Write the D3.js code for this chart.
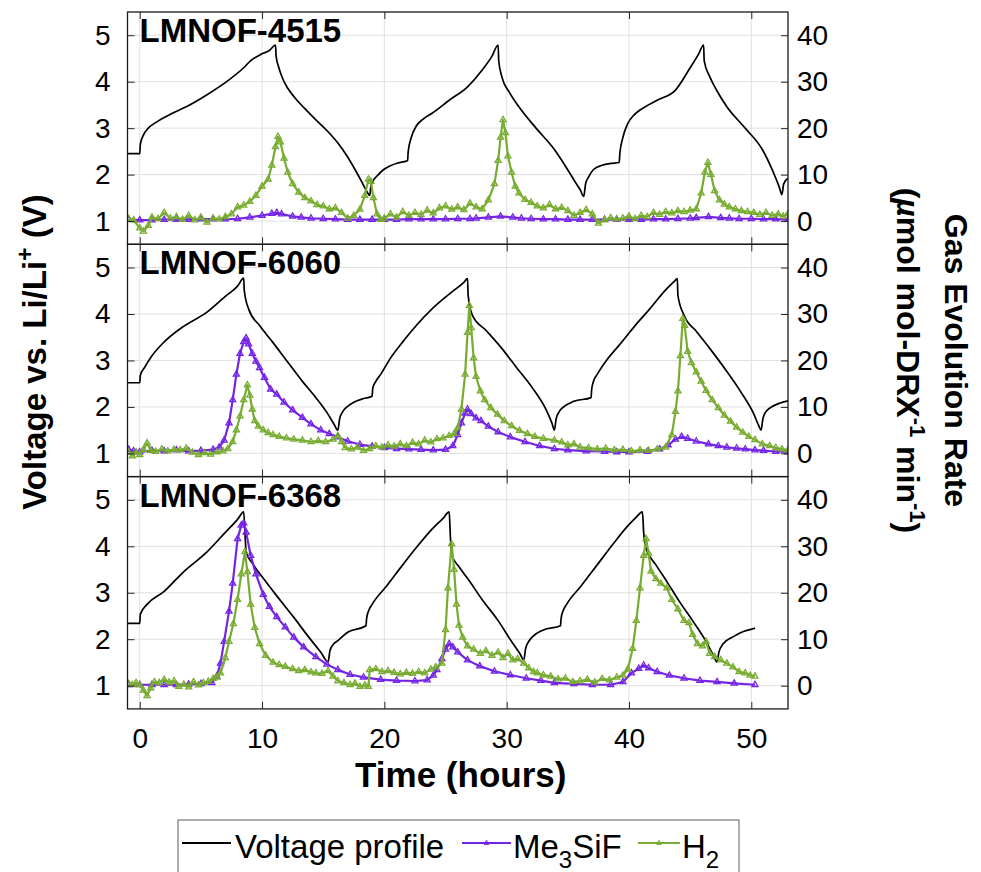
<!DOCTYPE html>
<html><head><meta charset="utf-8">
<script src="https://cdn.jsdelivr.net/npm/d3@7"></script>
<style>
html,body{margin:0;padding:0;background:#fff;}
text{font-family:"Liberation Sans",Arial,Helvetica,sans-serif;}
</style></head>
<body>
<svg id="chart" width="981" height="872"></svg>
<script>
// ---------------- DATA ----------------
const panelNames = ["LMNOF-4515", "LMNOF-6060", "LMNOF-6368"];
const xTicks = [0, 10, 20, 30, 40, 50];
const voltTicks = [1, 2, 3, 4, 5];
const gasTicks = [0, 10, 20, 30, 40];
const seriesNames = ["Voltage profile", "Me3SiF", "H2"];

// Voltage profiles [time h, V]
const volt4515 = [[-1,2.45],[0,2.45],[0.05,2.65],[0.3,2.85],[0.7,3.0],[1.3,3.12],[2.5,3.3],[3.8,3.46],[5.5,3.72],[7.3,4.04],[8.5,4.3],[9.1,4.46],[10,4.6],[10.6,4.67],[11.1,4.79],
[11.15,4.55],[11.35,4.32],[11.8,4.0],[12.6,3.68],[13.5,3.42],[14.4,3.18],[15.3,2.95],[16.2,2.68],[17.0,2.38],[17.6,2.11],[18.2,1.82],[18.6,1.62],[18.8,1.55],
[18.9,1.75],[19.1,1.88],[19.4,1.97],[19.9,2.1],[20.4,2.18],[21.1,2.25],[21.8,2.29],[21.9,2.3],
[21.95,2.5],[22.2,2.8],[22.6,3.04],[23.2,3.2],[23.9,3.32],[25.3,3.6],[26.8,3.89],[28,4.25],[28.8,4.55],[29.3,4.79],
[29.35,4.45],[29.6,4.11],[30.2,3.78],[31,3.46],[32.4,3.0],[33.9,2.54],[35,2.1],[35.7,1.8],[36.0,1.68],[36.3,1.53],
[36.45,1.8],[36.7,1.95],[37.1,2.11],[37.8,2.2],[38.5,2.24],[39.2,2.26],
[39.25,2.45],[39.5,2.8],[39.9,3.1],[40.4,3.28],[40.9,3.39],[42.3,3.6],[43.8,3.82],[45,4.3],[45.7,4.6],[46.1,4.79],
[46.15,4.45],[46.6,4.11],[47.2,3.8],[48,3.46],[49.5,3.0],[50.9,2.54],[51.8,2.05],[52.3,1.72],[52.5,1.57],
[52.65,1.8],[53,1.92]];
const volt6060 = [[-1,2.52],[0,2.52],[0.05,2.68],[0.4,2.85],[1.0,3.1],[2.0,3.4],[3.5,3.72],[5.5,4.04],[7.0,4.38],[8.0,4.6],[8.5,4.77],
[8.55,4.5],[8.9,4.11],[9.8,3.75],[10.85,3.4],[12,3.0],[13.3,2.55],[14.4,2.2],[15.4,1.84],[15.9,1.62],[16.2,1.5],
[16.35,1.75],[16.6,1.9],[16.9,1.99],[17.5,2.1],[18.3,2.18],[19.0,2.23],
[19.05,2.4],[19.3,2.55],[19.7,2.7],[20.5,3.05],[21.5,3.4],[22.7,3.78],[23.9,4.11],[25.5,4.47],[26.5,4.68],[26.8,4.76],
[26.85,4.4],[27.2,3.97],[28.3,3.65],[29.6,3.26],[30.8,2.85],[32.1,2.41],[33.2,1.95],[33.7,1.65],[33.9,1.5],
[34.05,1.75],[34.3,1.9],[34.6,1.99],[35.5,2.12],[36.9,2.2],
[36.95,2.38],[37.1,2.55],[37.4,2.7],[38.3,3.05],[39.2,3.33],[40.5,3.75],[41.7,4.11],[43.0,4.52],[43.7,4.7],[43.95,4.76],
[44.0,4.4],[44.5,3.97],[45.5,3.63],[46.6,3.26],[47.9,2.8],[49.1,2.34],[50.2,1.85],[50.6,1.6],[50.8,1.5],
[50.95,1.75],[51.2,1.9],[51.6,1.99],[52.3,2.08],[53,2.13]];
const volt6368 = [[-1,2.34],[0,2.34],[0.05,2.54],[0.6,2.75],[2.0,3.03],[3.5,3.43],[5.5,3.88],[7.0,4.3],[8.0,4.58],[8.5,4.74],
[8.6,4.3],[8.7,3.88],[9.3,3.6],[10.1,3.31],[11.3,2.9],[12.6,2.47],[13.8,2.05],[14.8,1.72],[15.4,1.51],
[15.55,1.75],[15.8,1.88],[16.2,1.97],[17.0,2.15],[18.5,2.29],
[18.55,2.45],[18.7,2.6],[19.0,2.75],[20.2,3.15],[21.5,3.6],[22.7,4.0],[23.9,4.37],[24.8,4.6],[25.3,4.74],
[25.4,4.2],[25.5,3.81],[26.1,3.56],[26.8,3.31],[28.0,2.85],[29.3,2.4],[30.4,1.95],[31.1,1.68],[31.4,1.55],
[31.55,1.8],[31.8,1.95],[32.1,2.05],[33.0,2.2],[34.4,2.29],
[34.45,2.45],[34.6,2.6],[34.9,2.75],[36.1,3.15],[37.4,3.6],[38.7,4.05],[39.9,4.44],[40.6,4.63],[41.1,4.74],
[41.2,4.3],[41.4,3.95],[42.2,3.6],[43.1,3.24],[44.1,2.82],[45.2,2.4],[46.3,1.95],[46.9,1.65],[47.2,1.51],
[47.35,1.72],[47.7,1.9],[48.5,2.05],[49.4,2.17],[50.2,2.23],[50.3,2.24]];

// Me3SiF evolution rate [time h, umol mol-DRX^-1 min^-1]
const me3sif4515 = [[-0.9,0.3],[0,0.2],[1,0.2],[2,0.3],[3,0.3],[4,0.3],[5,0.4],[6,0.4],[7,0.4],[8,0.5],[9,0.8],[10,1.2],[10.8,1.6],[11.2,1.8],[11.6,1.5],[12.5,1.0],[13.2,0.8],[14,0.6],[15,0.5],[16,0.4],[17,0.3],[18,0.3],[19,0.3],[20,0.3],[21,0.3],[22,0.4],[23,0.4],[24,0.4],[25,0.4],[26,0.5],[27,0.5],[27.5,0.6],[28.5,0.8],[29.5,1.0],[30.5,0.8],[31.2,0.6],[32,0.5],[33,0.4],[34,0.4],[35,0.3],[36,0.3],[37,0.3],[38,0.3],[39,0.3],[40,0.3],[41,0.3],[42,0.4],[43,0.4],[44,0.5],[45,0.6],[45.5,0.7],[46.5,0.9],[47.5,0.7],[48.2,0.6],[49,0.5],[50,0.5],[51,0.4],[52,0.4],[53,0.3]];
const me3sif6060 = [[-0.9,0.8],[-0.5,0.5],[0,0.3],[1,0.6],[2,0.5],[3,0.7],[4,0.5],[5,0.6],[6,0.8],[6.5,1.3],[6.9,2.8],[7.3,6.5],[7.6,11.5],[7.9,17],[8.2,21.5],[8.5,24],[8.7,24.8],[8.9,23.5],[9.2,21.5],[9.5,19.8],[9.8,18.4],[10.2,16.3],[10.7,13.8],[11.2,12.7],[11.8,11.0],[12.5,9.3],[13.3,7.7],[14.0,6.3],[14.8,5.0],[15.5,4.2],[16.2,3.5],[17.0,2.6],[18.0,1.9],[19.0,1.5],[20,1.2],[21,1.0],[22,0.9],[23,0.8],[24,0.7],[25,0.8],[25.6,1.6],[26.0,4.0],[26.3,6.5],[26.6,8.6],[26.8,9.5],[27.1,8.5],[27.5,7.6],[27.9,7.0],[28.5,5.8],[29.3,4.6],[30.3,3.5],[31.5,2.5],[32.7,1.6],[33.9,1.0],[35,0.7],[36.5,0.5],[38,0.4],[39,0.3],[40,0.3],[41.5,0.4],[42.5,0.9],[43.2,1.8],[43.8,3.0],[44.3,3.6],[44.8,3.2],[45.5,2.6],[46.5,2.0],[47.3,1.6],[48,1.3],[48.8,1.1],[49.5,0.9],[50.3,0.7],[51,0.6],[52,0.4],[53,0.3]];
const me3sif6368 = [[-0.9,0.2],[0,0.2],[1,0.2],[2,0.2],[3,0.2],[4,0.3],[5,0.4],[5.9,0.6],[6.3,2.0],[6.6,4.8],[6.9,9.5],[7.3,16],[7.6,22],[8.0,31.6],[8.3,34.5],[8.5,35],[8.7,33],[9.07,28],[9.5,24],[10.1,19.6],[10.6,17],[11.2,14.8],[11.9,12.6],[12.6,10.4],[13.4,8.3],[14.4,6.2],[15.3,4.6],[16.2,3.4],[17.2,2.4],[18.3,1.8],[19.7,1.3],[21,1.1],[22.5,1.0],[23.5,1.2],[24.0,2.2],[24.3,3.4],[24.7,5.8],[25.0,7.8],[25.3,9.0],[25.6,8.3],[26.0,7.2],[26.8,5.5],[27.8,4.2],[29.0,3.1],[30.3,2.3],[31.6,1.6],[32.8,1.1],[33.9,0.6],[35.5,0.4],[37,0.2],[38.5,0.2],[39.5,0.8],[40.2,2.7],[40.8,3.7],[41.2,4.4],[41.6,3.8],[42.3,3.0],[43.3,2.2],[44.5,1.6],[45.8,1.1],[47.2,0.8],[48.6,0.5],[50.3,0.2]];

// H2 evolution rate [time h, umol mol-DRX^-1 min^-1]
const h2_4515 = [[-0.9,0.5],[-0.5,0.2],[0,-1.5],[0.3,-2.2],[0.7,-1.0],[1.0,0.8],[1.5,0.5],[2.0,1.8],[2.5,0.6],[3.0,0.9],[3.5,0.3],[4.0,1.2],[4.5,0.2],[5.0,0.8],[5.5,-0.3],[6.0,0.6],[6.5,0.4],[7.0,0.9],[7.5,1.5],[8.0,3.0],[8.5,3.4],[9.0,4.2],[9.5,5.5],[10.0,7.5],[10.5,9.0],[10.8,12],[11.1,16],[11.3,18.2],[11.5,17],[11.8,13.5],[12.1,10.5],[12.5,8.0],[13.0,6.2],[13.5,5.0],[14.0,4.3],[14.5,3.5],[15.0,3.2],[15.5,2.6],[16.0,2.8],[16.5,1.8],[17.0,0.6],[17.5,1.2],[18.0,2.5],[18.4,5.5],[18.7,9.0],[18.9,8.5],[19.1,5.0],[19.4,1.5],[19.7,0.3],[20.0,0.6],[20.5,1.5],[21.0,0.8],[21.5,2.0],[22.0,1.2],[22.5,1.8],[23.0,1.4],[23.5,2.3],[24.0,1.7],[24.5,2.8],[25.0,3.2],[25.5,2.5],[26.0,3.0],[26.5,2.4],[27.0,3.8],[27.5,3.0],[28.0,2.6],[28.5,4.5],[29.0,8.0],[29.3,13],[29.5,18],[29.7,21.8],[29.9,19],[30.1,14],[30.4,10.5],[30.7,7.5],[31.0,6.0],[31.5,4.6],[32.0,4.0],[32.5,3.2],[33.0,2.8],[33.5,3.5],[34.0,2.6],[34.5,2.9],[35.0,2.2],[35.5,1.2],[36.0,1.8],[36.5,2.4],[37.0,1.5],[37.5,-0.5],[38.0,0.2],[38.5,0.7],[39.0,0.4],[39.5,0.6],[40.0,1.0],[40.5,0.5],[41.0,1.2],[41.5,0.9],[42.0,1.8],[42.5,1.4],[43.0,2.0],[43.5,1.7],[44.0,2.2],[44.5,2.0],[45.0,2.3],[45.5,2.6],[45.9,6.0],[46.2,10.5],[46.45,12.6],[46.7,10],[47.0,6.5],[47.4,4.5],[47.8,3.6],[48.2,3.0],[48.7,2.6],[49.2,2.2],[49.7,2.0],[50.2,1.8],[50.7,1.4],[51.2,1.8],[51.7,1.2],[52.2,1.5],[52.6,1.0],[53,1.6]];
const h2_6060 = [[-0.9,0.2],[-0.6,-0.6],[-0.3,0.3],[0,-0.3],[0.3,0.8],[0.6,2.2],[0.9,0.6],[1.3,0.4],[1.8,0.9],[2.3,0.5],[2.8,0.8],[3.3,0.7],[3.8,1.1],[4.3,0.2],[4.8,-0.3],[5.3,0.1],[5.8,-0.2],[6.3,0.3],[6.8,0.5],[7.2,1.0],[7.6,2.5],[7.9,5.0],[8.2,8.0],[8.5,11.5],[8.8,14.7],[9.0,12.5],[9.2,9.5],[9.4,7.0],[9.7,5.8],[10.1,5.0],[10.5,4.4],[10.9,4.0],[11.4,3.6],[12.0,3.3],[12.6,3.0],[13.3,2.8],[14.0,2.5],[14.6,2.7],[15.2,2.5],[15.8,3.0],[16.2,3.8],[16.5,2.5],[16.8,1.2],[17.3,0.9],[17.8,1.3],[18.3,0.6],[18.8,1.0],[19.3,1.6],[19.8,1.3],[20.3,1.8],[20.8,1.5],[21.3,2.0],[21.8,1.6],[22.3,2.3],[22.8,2.0],[23.3,2.8],[23.8,2.4],[24.3,3.1],[24.8,3.3],[25.3,3.8],[25.7,4.2],[26.0,5.5],[26.3,9.5],[26.6,17],[26.8,26],[26.95,31.8],[27.1,27],[27.3,20.5],[27.5,16.5],[27.85,13.4],[28.2,11.5],[28.7,9.8],[29.25,8.4],[29.8,7.0],[30.4,5.9],[31.05,4.9],[31.7,4.2],[32.3,3.6],[33.0,3.2],[33.9,2.8],[34.5,2.4],[35.0,1.8],[35.5,2.0],[36.0,1.3],[36.7,1.2],[37.4,0.9],[38.1,1.1],[38.8,0.7],[39.5,0.8],[40.2,0.5],[40.9,0.7],[41.6,0.6],[42.3,0.9],[43.0,1.3],[43.5,4.0],[43.8,9],[44.0,13.4],[44.2,21],[44.4,29],[44.55,27.5],[44.8,21.9],[45.1,19.5],[45.5,17.5],[45.9,15.5],[46.3,13.5],[46.8,11.5],[47.3,9.8],[47.8,8.2],[48.3,6.9],[48.8,5.6],[49.3,4.5],[49.8,3.6],[50.3,2.9],[50.9,2.0],[51.5,1.6],[52.0,1.2],[52.5,0.9],[53,0.7]];
const h2_6368 = [[-0.9,0.4],[-0.6,0.2],[-0.3,0.6],[0,0.2],[0.3,-1.0],[0.6,-2.2],[0.9,-0.5],[1.2,0.8],[1.6,0.6],[2.0,1.3],[2.4,0.7],[2.8,1.0],[3.2,-0.2],[3.6,0.3],[4.0,-0.3],[4.4,0.8],[4.8,0.1],[5.2,0.6],[5.6,0.9],[6.0,1.5],[6.3,1.8],[6.6,2.7],[7.0,6.0],[7.3,9.5],[7.65,13.3],[8.0,18.5],[8.3,24],[8.6,28.8],[8.8,24.5],[9.07,17.5],[9.4,12.5],[9.8,9.0],[10.3,6.5],[10.9,5.0],[11.4,4.5],[11.9,4.1],[12.5,3.6],[13.0,3.2],[13.5,3.4],[14.0,2.9],[14.4,2.7],[14.9,2.6],[15.4,3.2],[15.8,2.0],[16.2,1.0],[16.7,0.6],[17.2,0.2],[17.6,0.5],[18.0,-0.2],[18.4,0.1],[18.7,-0.2],[18.8,3.4],[19.3,3.6],[19.8,3.0],[20.3,3.2],[20.8,2.8],[21.3,2.5],[21.8,2.8],[22.3,2.6],[22.8,3.0],[23.3,2.7],[23.8,3.5],[24.2,4.0],[24.7,4.8],[25.0,12],[25.2,21],[25.5,30.5],[25.7,25],[25.9,17.5],[26.1,13],[26.4,10.4],[26.8,8.5],[27.3,7.8],[27.85,6.9],[28.3,7.5],[28.8,6.5],[29.3,7.2],[29.7,6.0],[30.1,6.9],[30.5,5.5],[30.9,5.8],[31.4,4.8],[31.8,3.8],[32.2,3.0],[32.5,2.7],[33.0,2.3],[33.6,2.0],[34.2,1.4],[34.8,1.6],[35.4,0.8],[36.0,1.0],[36.6,1.3],[37.2,0.7],[37.8,1.5],[38.4,1.2],[39.0,1.8],[39.5,2.2],[39.9,3.5],[40.3,8.0],[40.6,14],[40.9,21],[41.2,28],[41.4,31.6],[41.6,28.5],[41.8,24.6],[42.2,23],[42.6,22],[43.1,21],[43.5,18.5],[44.0,16.5],[44.5,14],[44.9,13.5],[45.2,11.0],[45.6,9.0],[46.0,8.5],[46.3,9.5],[46.6,6.9],[47.0,6.2],[47.5,5.5],[48.0,4.8],[48.5,4.0],[49.0,3.0],[49.5,2.7],[49.9,2.2],[50.3,2.0]];

const voltSeries = [volt4515, volt6060, volt6368];
const me3sifSeries = [me3sif4515, me3sif6060, me3sif6368];
const h2Series = [h2_4515, h2_6060, h2_6368];

// ---------------- LAYOUT ----------------
const colors = {volt: "#000000", me3sif: "#7424e4", h2: "#77ac30"};
const L = 127.5, R = 788, T = 12, PH = 232.3;
const svg = d3.select("#chart");
const x = d3.scaleLinear().domain([-1, 53]).range([L, R]);

const tri = d3.symbol().type(d3.symbolTriangle).size(16);

for (let p = 0; p < 3; p++) {
  const top = T + p * PH, bot = top + PH;
  const yV = d3.scaleLinear().domain([0.5, 5.5]).range([bot, top]);
  const yG = d3.scaleLinear().domain([-5, 45]).range([bot, top]);
  const g = svg.append("g");

  // grid
  g.append("g").selectAll("line").data(xTicks).join("line")
    .attr("x1", d => x(d)).attr("x2", d => x(d)).attr("y1", top).attr("y2", bot)
    .attr("stroke", "#e0e0e0").attr("stroke-width", 1);
  g.append("g").selectAll("line").data(voltTicks).join("line")
    .attr("x1", L).attr("x2", R).attr("y1", d => yV(d)).attr("y2", d => yV(d))
    .attr("stroke", "#e0e0e0").attr("stroke-width", 1);

  // clip
  const cid = "clip" + p;
  svg.append("clipPath").attr("id", cid).append("rect")
    .attr("x", L).attr("y", top).attr("width", R - L).attr("height", PH);
  const plot = g.append("g").attr("clip-path", `url(#${cid})`);

  const lineV = d3.line().curve(d3.curveMonotoneX).x(d => x(d[0])).y(d => yV(d[1]));
  const lineG = d3.line().x(d => x(d[0])).y(d => yG(d[1]));

  plot.append("path").datum(voltSeries[p]).attr("d", lineV)
    .attr("fill", "none").attr("stroke", colors.volt).attr("stroke-width", 1.7);

  [[me3sifSeries[p], colors.me3sif], [h2Series[p], colors.h2]].forEach(([data, c]) => {
    plot.append("path").datum(data).attr("d", lineG)
      .attr("fill", "none").attr("stroke", c).attr("stroke-width", 2.2).attr("stroke-linejoin", "round");
    plot.append("g").selectAll("path").data(data).join("path")
      .attr("d", tri).attr("transform", d => `translate(${x(d[0])},${yG(d[1])})`)
      .attr("fill", "none").attr("stroke", c).attr("stroke-width", 1.3);
  });

  // axes (inside ticks)
  const axL = d3.axisLeft(yV).tickValues(voltTicks).tickSize(-7).tickPadding(17).tickFormat(d3.format("d"));
  const axR = d3.axisRight(yG).tickValues(gasTicks).tickSize(-7).tickPadding(16).tickFormat(d3.format("d"));
  const axB = d3.axisBottom(x).tickValues(xTicks).tickSize(-7).tickFormat("");
  const axT = d3.axisTop(x).tickValues(xTicks).tickSize(-7).tickFormat("");
  [[axL, `translate(${L},0)`], [axR, `translate(${R - 7},0)`], [axB, `translate(0,${bot})`], [axT, `translate(0,${top})`]]
    .forEach(([ax, tr], i) => {
      const a = g.append("g").attr("transform", tr).call(ax);
      a.select(".domain").remove();
      a.selectAll(".tick line").attr("stroke", "#262626");
      if (i === 1) a.selectAll(".tick line").attr("x1", 7).attr("x2", 0);
      a.selectAll(".tick text").attr("font-size", 28).attr("fill", "#000")
        .attr("font-family", '"Liberation Sans", Arial, sans-serif');
    });

  g.append("rect").attr("x", L).attr("y", top).attr("width", R - L).attr("height", PH)
    .attr("fill", "none").attr("stroke", "#1a1a1a").attr("stroke-width", 1.3);

  g.append("text").attr("x", L + 12).attr("y", top + 30)
    .attr("font-size", 33).attr("font-weight", "bold").text(panelNames[p]);

  if (p === 2) {
    const axX = d3.axisBottom(x).tickValues(xTicks).tickSize(0).tickPadding(19).tickFormat(d3.format("d"));
    const a = g.append("g").attr("transform", `translate(0,${bot})`).call(axX);
    a.select(".domain").remove();
    a.selectAll(".tick text").attr("font-size", 28).attr("fill", "#000")
      .attr("font-family", '"Liberation Sans", Arial, sans-serif');
  }
}

// axis titles
const bottom = T + 3 * PH;
svg.append("text").attr("x", (L + R) / 2 + 3).attr("y", 787).attr("text-anchor", "middle")
  .attr("font-size", 35).attr("font-weight", "bold").text("Time (hours)");

const yl = svg.append("text").attr("transform", `translate(46,352) rotate(-90)`)
  .attr("text-anchor", "middle").attr("font-size", 33).attr("font-weight", "bold");
yl.append("tspan").text("Voltage vs. Li/Li");
yl.append("tspan").attr("font-size", 23).attr("dy", -13).text("+");
yl.append("tspan").attr("dy", 13).text(" (V)");

const r1 = svg.append("text").attr("transform", `translate(945,${(T + bottom) / 2}) rotate(90)`)
  .attr("text-anchor", "middle").attr("font-size", 32).attr("font-weight", "bold").text("Gas Evolution Rate");
const r2 = svg.append("text").attr("transform", `translate(897,${(T + bottom) / 2}) rotate(90)`)
  .attr("text-anchor", "middle").attr("font-size", 32).attr("font-weight", "bold");
r2.append("tspan").text("(");
r2.append("tspan").attr("font-style", "italic").text("\u00b5");
r2.append("tspan").text("mol mol-DRX");
r2.append("tspan").attr("font-size", 22).attr("dy", -13).text("-1");
r2.append("tspan").attr("dy", 13).text(" min");
r2.append("tspan").attr("font-size", 22).attr("dy", -13).text("-1");
r2.append("tspan").attr("dy", 13).text(")");

// legend
const lg = svg.append("g");
lg.append("rect").attr("x", 178).attr("y", 820).attr("width", 561).attr("height", 70)
  .attr("fill", "#fff").attr("stroke", "#7a7a7a").attr("stroke-width", 1.2);
const legItems = [
  {x1: 182, x2: 231, tx: 235, c: colors.volt, marker: false, name: seriesNames[0], sub: null},
  {x1: 462, x2: 511, tx: 513, c: colors.me3sif, marker: true, name: "Me", sub: "3", rest: "SiF"},
  {x1: 638, x2: 680, tx: 682, c: colors.h2, marker: true, name: "H", sub: "2", rest: ""}
];
legItems.forEach(it => {
  const ly = 843;
  lg.append("line").attr("x1", it.x1).attr("x2", it.x2).attr("y1", ly).attr("y2", ly)
    .attr("stroke", it.c).attr("stroke-width", it.marker ? 2 : 1.8);
  if (it.marker) lg.append("path").attr("d", d3.symbol().type(d3.symbolTriangle).size(10))
    .attr("transform", `translate(${(it.x1 + it.x2) / 2},${ly})`).attr("fill", "none").attr("stroke", it.c).attr("stroke-width", 1);
  const t = lg.append("text").attr("x", it.tx).attr("y", 858).attr("font-size", 33);
  t.append("tspan").text(it.name);
  if (it.sub) {
    t.append("tspan").attr("font-size", 24).attr("dy", 10).text(it.sub);
    if (it.rest) t.append("tspan").attr("dy", -10).text(it.rest);
  }
});
</script>
</body></html>
